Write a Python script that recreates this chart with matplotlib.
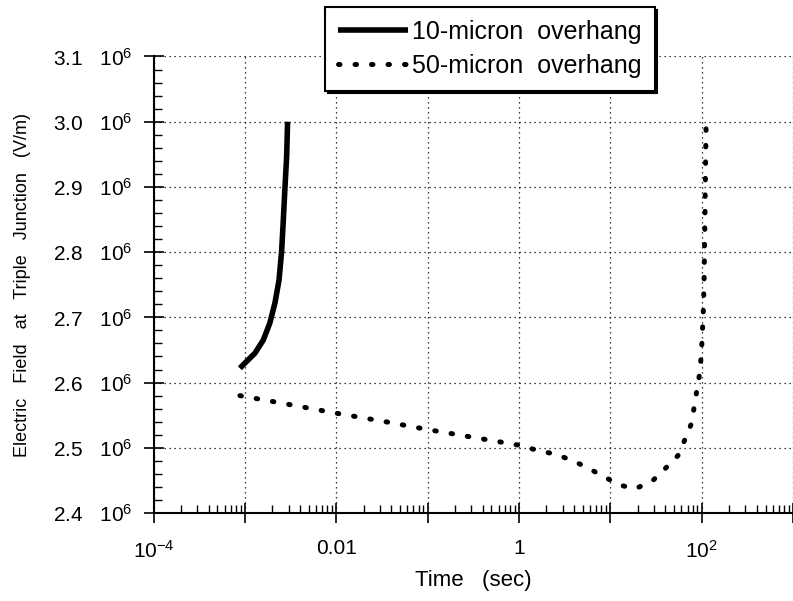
import numpy as np
import matplotlib.pyplot as plt
from matplotlib.ticker import FixedLocator, LogLocator, MultipleLocator, FuncFormatter, NullFormatter

# ---------------- data ----------------
# 10-micron overhang (time in s, field in V/m)
t_10 = [8.81e-4, 1.0e-3, 1.285e-3, 1.585e-3, 1.87e-3, 2.13e-3, 2.36e-3, 2.52e-3, 2.63e-3, 2.74e-3,
        2.86e-3, 2.93e-3]
e_10 = [2.622e6, 2.630e6, 2.645e6, 2.665e6, 2.691e6, 2.722e6, 2.757e6, 2.801e6, 2.849e6, 2.898e6,
        2.946e6, 3.000e6]

# 50-micron overhang
t_50 = [8.81e-4, 3.16e-3, 0.01, 0.0316, 0.1, 0.316, 1.0, 1.51, 2.34, 3.47, 5.37, 7.94, 12.6, 18.6,
        28.8, 39.8, 55.0, 65.3, 76.7, 83.2, 88.5, 94.6, 98.6, 101.0, 102.8, 104.7, 106.4, 107.9,
        109.1, 110.4, 111.7]
e_50 = [2.580e6, 2.566e6, 2.553e6, 2.541e6, 2.528e6, 2.516e6, 2.504e6, 2.497e6, 2.491e6, 2.483e6,
        2.471e6, 2.458e6, 2.443e6, 2.437e6, 2.449e6, 2.468e6, 2.488e6, 2.512e6, 2.536e6, 2.564e6,
        2.588e6, 2.612e6, 2.639e6, 2.665e6, 2.690e6, 2.716e6, 2.760e6, 2.820e6, 2.880e6, 2.940e6,
        2.990e6]

labels = ["10-micron  overhang", "50-micron  overhang"]
x_ticks = [1e-4, 1e-3, 1e-2, 1e-1, 1, 10, 100, 1000]
x_tick_labels = ["10$^{-4}$", "", "0.01", "", "1", "", "10$^{2}$", ""]

# ---------------- style ----------------
plt.rcParams['font.family'] = ['Liberation Sans', 'DejaVu Sans']
plt.rcParams['mathtext.fontset'] = 'custom'
plt.rcParams['mathtext.rm'] = 'Liberation Sans'
plt.rcParams['mathtext.it'] = 'Liberation Sans:italic'

fig = plt.figure(figsize=(7.93, 6.01), dpi=100)
ax = fig.add_axes([0.1937, 0.1464, 0.8063, 0.7596])

l1, = ax.plot(t_10, e_10, color='black', lw=4, solid_capstyle='butt', solid_joinstyle='round',
              label=labels[0])
l2, = ax.plot(t_50, e_50, color='black', lw=3.6, linestyle=(0, (0.3, 3.0)),
              dash_capstyle='round', label=labels[1])

ax.set_xscale('log')
ax.set_xlim(1e-4, 1e3)
ax.set_ylim(2.4e6, 3.1e6)

for s in ['top', 'right']:
    ax.spines[s].set_visible(False)
for s in ['left', 'bottom']:
    ax.spines[s].set_linewidth(1.5)

# ticks
ax.xaxis.set_major_locator(FixedLocator(x_ticks))
ax.set_xticklabels(x_tick_labels)
ax.xaxis.set_minor_locator(LogLocator(base=10, subs=np.arange(2, 10)))
ax.xaxis.set_minor_formatter(NullFormatter())
ax.yaxis.set_major_locator(MultipleLocator(1e5))
ax.yaxis.set_minor_locator(MultipleLocator(2e4))
ax.yaxis.set_major_formatter(FuncFormatter(lambda v, p: f"{v/1e6:.1f}   10$^{{6}}$"))

ax.tick_params(which='major', direction='inout', length=14, width=1.2, labelsize=15)
ax.tick_params(which='minor', direction='in', length=6, width=1)
ax.tick_params(axis='x', which='major', pad=12)
ax.tick_params(axis='y', which='major', pad=8)

ax.grid(True, which='major', color='black', lw=0.9, linestyle=(0, (1, 3)))

ax.set_xlabel("Time   (sec)", fontsize=16, labelpad=6)
ax.set_ylabel("Electric   Field   at   Triple   Junction   (V/m)", fontsize=13, labelpad=16)

leg = fig.legend(handles=[l1, l2], loc='upper left', bbox_to_anchor=(325/793, 1 - 7/601),
                 bbox_transform=fig.transFigure, borderaxespad=0, fontsize=18,
                 handlelength=2.8, handletextpad=0.2, labelspacing=0.42, borderpad=0.5,
                 fancybox=False, framealpha=1, edgecolor='black',
                 shadow={'color': 'black', 'alpha': 1})
leg.get_frame().set_linewidth(1.5)

fig.savefig("out.png", dpi=100)
